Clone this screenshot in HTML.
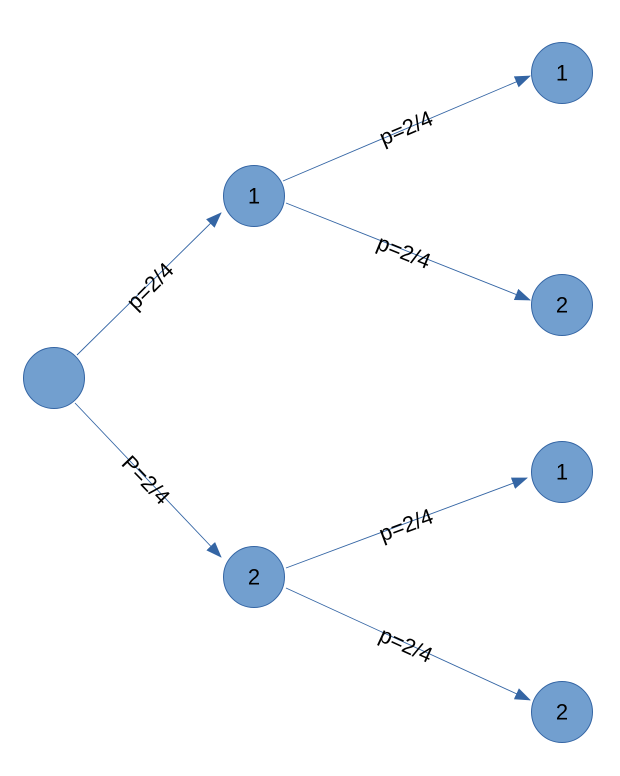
<!DOCTYPE html>
<html><head><style>html,body{margin:0;padding:0;background:#fff}svg{display:block}</style></head>
<body>
<svg width="620" height="776" viewBox="0 0 620 776" xmlns="http://www.w3.org/2000/svg" font-family="Liberation Sans, sans-serif">
<defs><marker id="a" markerWidth="16" markerHeight="12" refX="15" refY="6" orient="auto" markerUnits="userSpaceOnUse"><path d="M0,0 L16,6 L0,12 Z" fill="#3465a4"/></marker></defs>
<g stroke="#3465a4" stroke-width="0.9" fill="none" marker-end="url(#a)">
<line x1="77" y1="355" x2="221" y2="213"/>
<line x1="75" y1="403" x2="221" y2="557"/>
<line x1="283" y1="181" x2="530" y2="76"/>
<line x1="286" y1="203" x2="530" y2="300"/>
<line x1="286" y1="568" x2="527" y2="478"/>
<line x1="286" y1="588" x2="530" y2="700"/>
</g>
<g fill="#729fcf" stroke="#3465a4" stroke-width="1">
<circle cx="54" cy="378" r="30.5"/>
<circle cx="254" cy="196" r="30.5"/>
<circle cx="254" cy="577" r="30.5"/>
<circle cx="562" cy="73" r="30.5"/>
<circle cx="562" cy="305" r="30.5"/>
<circle cx="562" cy="472" r="30.5"/>
<circle cx="562" cy="712" r="30.5"/>
</g>
<g font-size="22" fill="#000" text-anchor="middle" dominant-baseline="central">
<text x="254" y="196">1</text>
<text x="254" y="577">2</text>
<text x="562" y="73">1</text>
<text x="562" y="305">2</text>
<text x="562" y="472">1</text>
<text x="562" y="712">2</text>
<text transform="translate(150,286) rotate(-45)">p=2/4</text>
<text transform="translate(146,480) rotate(46)">P=2/4</text>
<text transform="translate(406,128) rotate(-23)">p=2/4</text>
<text transform="translate(404,252) rotate(22)">p=2/4</text>
<text transform="translate(406,525) rotate(-20.5)">p=2/4</text>
<text transform="translate(406,645) rotate(24.5)">p=2/4</text>
</g>
</svg>
</body></html>
